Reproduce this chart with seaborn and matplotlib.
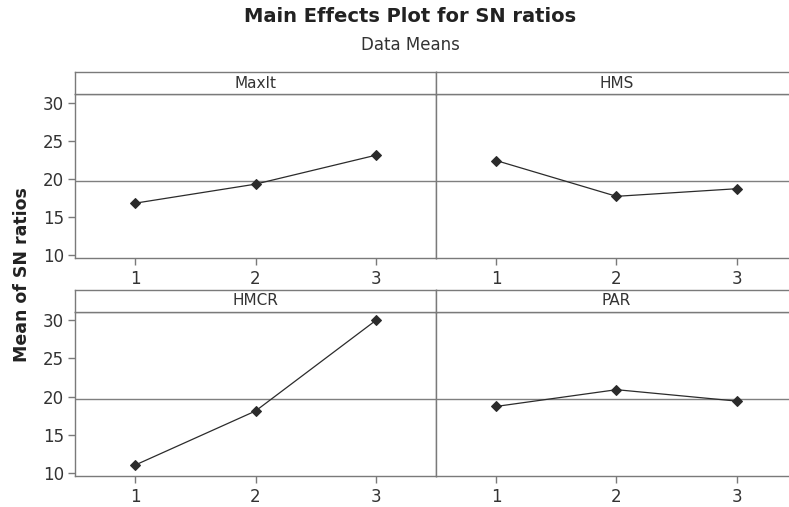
import pandas as pd
import seaborn as sns
import matplotlib.pyplot as plt

# Niveles y medias de las razones S/N
levels = [1, 2, 3]
factors = ['MaxIt', 'HMS', 'HMCR', 'PAR']
maxit = [16.8, 19.3, 23.1]
hms = [22.4, 17.7, 18.7]
hmcr = [11.0, 18.1, 30.0]
par = [18.7, 20.9, 19.4]

rows = []
for name, vals in zip(factors, [maxit, hms, hmcr, par]):
    for lv, v in zip(levels, vals):
        rows.append({'factor': name, 'level': lv, 'sn': v})
df = pd.DataFrame(rows)
grand_mean = df['sn'].mean()

sns.set_style('white')
plt.rcParams['font.family'] = ['DejaVu Sans']
plt.rcParams['xtick.bottom'] = True
plt.rcParams['ytick.left'] = True
text_col = '#333333'
edge_col = '#7a7a7a'

fig, axes = plt.subplots(2, 2, figsize=(7.89, 5.07), dpi=100, sharex=True, sharey=True)
fig.subplots_adjust(left=0.0951, right=1.0101, top=0.814, bottom=0.0617,
                    wspace=0, hspace=0.33)

for ax, name in zip(axes.flat, factors):
    sub = df[df['factor'] == name]
    ax.axhline(grand_mean, color='#7f7f7f', lw=1.0, zorder=1)
    sns.lineplot(data=sub, x='level', y='sn', ax=ax, color='#2b2b2b', lw=0.9,
                 marker='D', markersize=5, markeredgecolor='#2b2b2b', zorder=3)
    ax.set_xlim(0.5, 3.5)
    ax.set_ylim(9.6, 31.1)
    ax.set_xticks(levels)
    ax.set_yticks([10, 15, 20, 25, 30])
    ax.set_xlabel('')
    ax.set_ylabel('')
    for s in ax.spines.values():
        s.set_color(edge_col)
        s.set_linewidth(1.0)
    ax.tick_params(axis='x', which='both', direction='out', length=5, width=1,
                   color=edge_col, labelsize=12, labelcolor=text_col, pad=4,
                   bottom=True, labelbottom=True)
    ax.tick_params(axis='y', direction='out', length=5, width=1, color=edge_col,
                   labelsize=12, labelcolor=text_col, pad=3, left=True)

    # franja con el nombre del factor
    pos = ax.get_position()
    strip = fig.add_axes([pos.x0, pos.y1, pos.width, 22.3 / 507])
    strip.set_xticks([])
    strip.set_yticks([])
    for s in strip.spines.values():
        s.set_color(edge_col)
        s.set_linewidth(1.0)
    strip.text(0.5 * 361 / (pos.width * 789), 0.5, name, ha='center', va='center',
               fontsize=11, color=text_col, transform=strip.transAxes)

for ax in axes[:, 1]:
    ax.tick_params(axis='y', left=False, labelleft=False)

fig.text(410 / 789, 1 - 16 / 507, 'Main Effects Plot for SN ratios', ha='center',
         va='center', fontsize=14, fontweight='bold', color='#222222')
fig.text(410 / 789, 1 - 45 / 507, 'Data Means', ha='center', va='center',
         fontsize=12, color=text_col)
fig.text(22 / 789, 1 - 275 / 507, 'Mean of SN ratios', rotation=90, ha='center',
         va='center', fontsize=12.5, fontweight='bold', color='#222222')

fig.savefig('out.png', dpi=100)
